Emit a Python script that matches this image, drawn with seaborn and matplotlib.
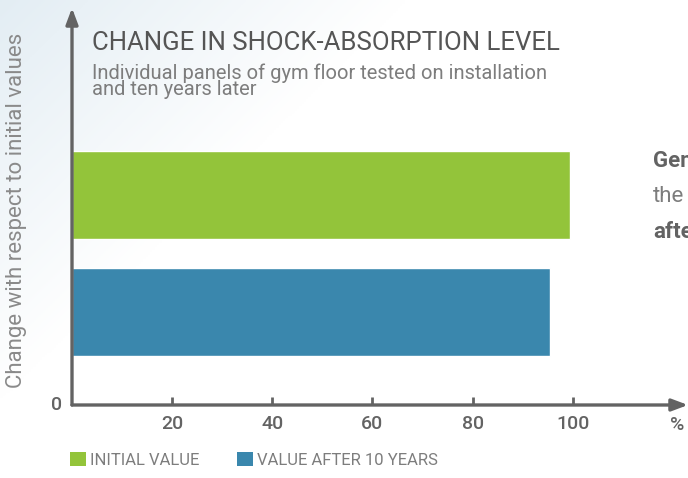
import numpy as np
import pandas as pd
import matplotlib.pyplot as plt
import seaborn as sns
from matplotlib.patches import Patch

# data
categories = ['INITIAL VALUE', 'VALUE AFTER 10 YEARS']
values = [99.4, 95.4]
colors = ['#93c43a', '#3a87ad']
ticks = [20, 40, 60, 80, 100]

df = pd.DataFrame({'category': categories, 'value': values})

sns.set_theme(style='white')
plt.rcParams['font.family'] = ['Roboto', 'DejaVu Sans']
gray = '#636363'
light = '#7d7d7d'

fig = plt.figure(figsize=(6.88, 4.78), dpi=100)

# soft blue wash in the top left corner
bg = fig.add_axes([0, 0, 1, 1], zorder=-1)
yy, xx = np.mgrid[0:1:200j, 0:1:300j]
d = np.clip(1 - (xx * 1.7 + yy * 1.2), 0, 1)
wash = np.ones((200, 300, 3))
tint = np.array([0.89, 0.93, 0.955])
wash = wash * (1 - d[..., None]) + tint * d[..., None]
bg.imshow(wash, aspect='auto', extent=[0, 1, 0, 1])
bg.axis('off')

W, H = 688, 478
ax = fig.add_axes([72 / W, (H - 405) / H, 616 / W, 397 / H])
ax.patch.set_alpha(0)
sns.barplot(data=df, x='value', y='category', hue='category', palette=colors,
            orient='h', width=0.75, legend=False, ax=ax, saturation=1)

ax.set_xlim(0, 123)
ax.set_ylim(1.795, -1.6)
for s in ax.spines.values():
    s.set_visible(False)
ax.set_xlabel('')
ax.set_ylabel('')
ax.set_yticks([])
ax.set_xticks(ticks)
ax.set_xticklabels([str(t) for t in ticks], color=gray, fontsize=14, fontweight='medium')
ax.tick_params(axis='x', direction='in', length=6, width=2, color=gray, pad=7, bottom=True)

# axis lines with arrow heads
arrow = dict(arrowstyle='-|>,head_length=0.8,head_width=0.3', color=gray, lw=2.4,
             shrinkA=0, shrinkB=0)
ax.annotate('', xy=(1.0, 0), xytext=(0, 0), xycoords='axes fraction', arrowprops=arrow,
            annotation_clip=False)
ax.annotate('', xy=(0, 1.0), xytext=(0, 0), xycoords='axes fraction', arrowprops=arrow,
            annotation_clip=False)

fig.text(57 / W, 1 - 405 / H, '0', color=gray, fontsize=14, fontweight='medium',
         ha='center', va='center')
fig.text(677 / W, 1 - 425 / H, '%', color=gray, fontsize=14, fontweight='medium',
         ha='center', va='center')

fig.text(17 / W, 1 - 210 / H, 'Change with respect to initial values', rotation=90,
         color='#8a8a8a', fontsize=16, ha='center', va='center')

fig.text(92 / W, 1 - 43 / H, 'CHANGE IN SHOCK-ABSORPTION LEVEL', color='#555555',
         fontsize=18.5, ha='left', va='center')
fig.text(92 / W, 1 - 81 / H, 'Individual panels of gym floor tested on installation\nand ten years later',
         color=light, fontsize=14.5, ha='left', va='center', linespacing=0.82)

# side text, cut by the right edge as in the reference
fig.text(653 / W, 1 - 161 / H, 'Generally,', color=gray, fontsize=16, fontweight='bold',
         ha='left', va='center')
fig.text(653 / W, 1 - 197 / H, 'the', color=light, fontsize=16, ha='left', va='center')
fig.text(653 / W, 1 - 232 / H, 'after', color=gray, fontsize=16, fontweight='bold',
         ha='left', va='center')

# legend, one entry per box so each sits where the reference has it
for cat, c, x0 in zip(categories, colors, [70, 237]):
    leg = fig.legend([Patch(facecolor=c, edgecolor='none')], [cat], loc='center left',
                     bbox_to_anchor=(x0 / W, 1 - 460 / H), frameon=False, borderpad=0,
                     borderaxespad=0, handlelength=0.95, handleheight=0.95, handletextpad=0.25,
                     prop={'size': 12})
    for t in leg.get_texts():
        t.set_color(light)

plt.savefig('out.png', dpi=100)
